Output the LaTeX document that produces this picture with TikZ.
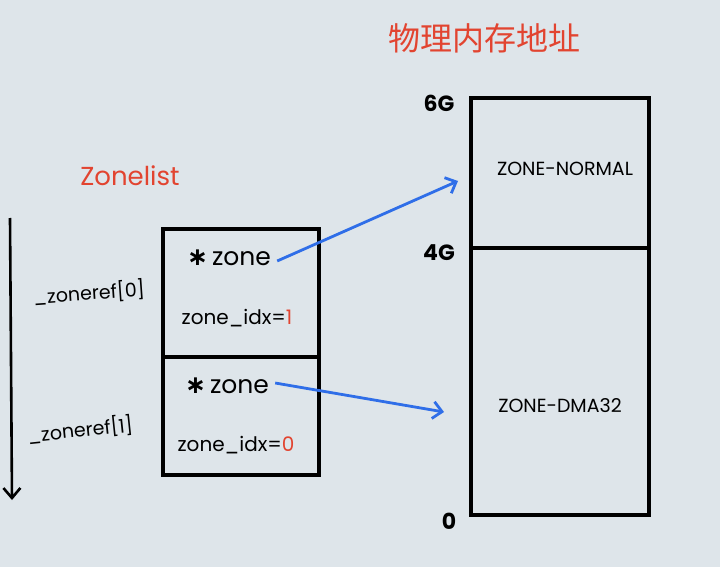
\documentclass[tikz,border=0pt]{standalone}
\usepackage{fontspec}
\setmainfont{Poppins}
\newfontfamily\cjk{Noto Sans CJK SC}
\newfontfamily\symf{DejaVu Sans}
\usetikzlibrary{arrows.meta}
\definecolor{bgc}{RGB}{222,229,234}
\definecolor{redc}{RGB}{226,68,48}
\definecolor{bluec}{RGB}{47,110,232}
\tikzset{
  frame/.style={draw=black, line width=3.4pt},
  lbl/.style={font=\fontsize{20}{20}\selectfont, inner sep=0pt},
  ptr/.style={font=\fontsize{25}{25}\selectfont, inner sep=0pt},
  zonename/.style={font=\fontsize{19}{19}\selectfont, inner sep=0pt},
  axis/.style={font=\fontsize{22}{22}\selectfont\bfseries, inner sep=0pt},
  refl/.style={font=\fontsize{19}{19}\selectfont, inner sep=0pt},
  link/.style={draw=bluec, line width=2.8pt, -{Straight Barb[length=9pt,width=17pt,line width=2.8pt]}},
}
\begin{document}
\begin{tikzpicture}[x=1pt,y=-1pt]
\fill[bgc] (0,0) rectangle (720,567);
\useasboundingbox (0,0) rectangle (720,567);
% title
\node[font=\cjk\fontsize{32}{32}\selectfont, text=redc, inner sep=0pt] (title) at (484,38) {物理内存地址};
% memory box
\draw[frame] (471,98) rectangle (649,515);
\draw[frame] (471,248) -- (649,248);
\coordinate (normal) at (458,181);
\coordinate (dma) at (444,412);
\node[axis] (g6) at (439,103) {6G};
\node[axis] (g4) at (439,253) {4G};
\node[axis] (g0) at (449,521) {0};
\node[zonename] (zn) at (565,169) {ZONE-NORMAL};
\node[zonename] (zd) at (560,406) {ZONE-DMA32};
% zonelist
\node[font=\fontsize{26}{26}\selectfont, text=redc, inner sep=0pt] (zl) at (130,176) {Zonelist};
\draw[frame] (163,229) rectangle (319,475);
\draw[frame] (163,357) -- (319,357);
\node[ptr] (p1) at (229,258) {{\symf\bfseries ∗}\,zone};
\node[lbl] (i1) at (237,318) {zone\_idx=\textcolor{redc}{1}};
\node[ptr] (p2) at (227,386) {{\symf\bfseries ∗}\,zone};
\node[lbl] (i2) at (236,445) {zone\_idx=\textcolor{redc}{0}};
\node[refl, rotate=4] (r0) at (89,293) {\_zoneref[0]};
\node[refl, rotate=6] (r1) at (80,430) {\_zoneref[1]};
% vertical arrow
\coordinate (vtop) at (10,218);
\coordinate (vbot) at (12,500);
\draw[line width=2.6pt, -{Straight Barb[length=10pt,width=17pt,line width=2.6pt]}] (vtop) -- (vbot);
% pointers
\draw[link] (p1.east) ++(6,3) -- (normal);
\draw[link] (p2.east) ++(6,-3) -- (dma);
\end{tikzpicture}
\end{document}
